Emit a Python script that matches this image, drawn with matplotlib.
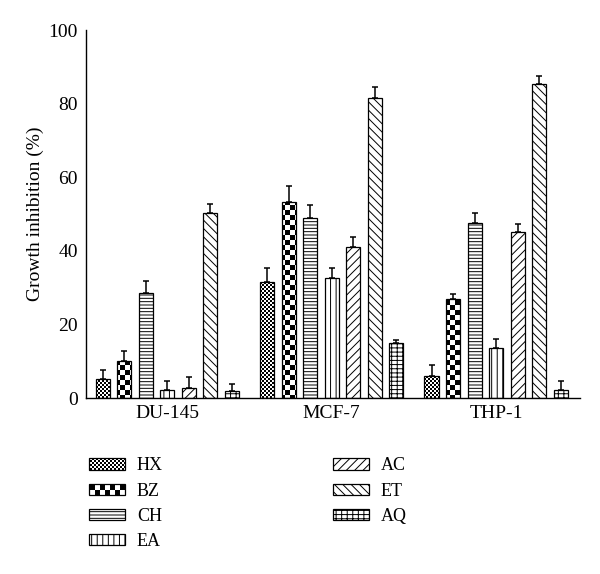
import warnings
warnings.filterwarnings('ignore')
import numpy as np
import matplotlib
matplotlib.use('Agg')
import matplotlib.pyplot as plt
import matplotlib.hatch as mhatch
from matplotlib.path import Path

# ---- data ----
cell_lines = ['DU-145', 'MCF-7', 'THP-1']
extracts = ['HX', 'BZ', 'CH', 'EA', 'AC', 'ET', 'AQ']
HX = [5.3, 31.6, 6.0]
BZ = [10.1, 53.2, 26.8]
CH = [28.6, 48.9, 47.5]
EA = [2.2, 32.7, 13.6]
AC = [2.7, 41.1, 45.2]
ET = [50.3, 81.4, 85.4]
AQ = [2.0, 15.0, 2.2]
HX_err = [2.4, 3.6, 3.0]
BZ_err = [2.7, 4.5, 1.4]
CH_err = [3.3, 3.5, 2.7]
EA_err = [2.5, 2.5, 2.5]
AC_err = [3.0, 2.6, 2.0]
ET_err = [2.5, 3.0, 2.0]
AQ_err = [1.9, 0.8, 2.5]
y_ticks = [0, 20, 40, 60, 80, 100]

values = [HX, BZ, CH, EA, AC, ET, AQ]
errors = [HX_err, BZ_err, CH_err, EA_err, AC_err, ET_err, AQ_err]

HATCH_LW = 0.7
plt.rcParams['hatch.linewidth'] = HATCH_LW
plt.rcParams['font.family'] = ['Liberation Serif', 'DejaVu Serif']


class CheckerHatch(mhatch.HatchPatternBase):
    """Checkerboard hatch: 'c' small squares, 'C' large squares."""
    def __init__(self, hatch, density):
        if hatch.count('c'):
            self.n = 50
        elif hatch.count('C'):
            self.n = 20
        else:
            self.n = 0
        self.nsq = (self.n * self.n) // 2 if self.n else 0
        self.num_vertices = self.nsq * 5

    def set_vertices_and_codes(self, vertices, codes):
        s = 1.0 / self.n
        shrink = HATCH_LW / 72.0 / 2.0
        k = 0
        for i in range(self.n):
            for j in range(self.n):
                if (i + j) % 2 == 0:
                    x0 = i * s + shrink
                    y0 = j * s + shrink
                    x1 = (i + 1) * s - shrink
                    y1 = (j + 1) * s - shrink
                    vertices[k:k + 5] = [[x0, y0], [x1, y0], [x1, y1], [x0, y1], [x0, y0]]
                    codes[k:k + 5] = [Path.MOVETO, Path.LINETO, Path.LINETO, Path.LINETO, Path.CLOSEPOLY]
                    k += 5


mhatch._hatch_types.append(CheckerHatch)

hatches = ['c', 'C', '-----', '|||', '////', '\\\\\\\\', '+++-']

fig = plt.figure(figsize=(6.0, 5.74), dpi=100)
ax = fig.add_axes([0.1433, 0.3066, 0.8234, 0.6411])

x = np.arange(len(cell_lines))
step = 0.131
width = 0.086
for k, (name, vals, errs, h) in enumerate(zip(extracts, values, errors, hatches)):
    pos = x + (k - 3) * step
    ax.bar(pos, vals, width, color='white', edgecolor='black', linewidth=0.9,
           hatch=h, label=name, zorder=2)
    ax.errorbar(pos, vals, yerr=[np.zeros(len(vals)), errs], fmt='none',
                ecolor='black', elinewidth=1.1, capsize=2.3, capthick=1.1, zorder=3)

ax.set_xlim(-0.494, 2.51)
ax.set_ylim(0, 100)
ax.set_yticks(y_ticks)
ax.set_xticks(x)
ax.set_xticklabels(cell_lines)
ax.tick_params(axis='both', length=0, labelsize=14)
ax.tick_params(axis='y', pad=6)
ax.tick_params(axis='x', pad=5)
for sp in ['top', 'right']:
    ax.spines[sp].set_visible(False)
for sp in ['left', 'bottom']:
    ax.spines[sp].set_linewidth(1.0)
ax.set_ylabel('Growth inhibition (%)', fontsize=14, labelpad=3)

leg = fig.legend(loc='upper left', bbox_to_anchor=(0.148, 0.203), ncol=2,
                 frameon=False, fontsize=13, handlelength=2.0, handleheight=0.6,
                 labelspacing=0.45, columnspacing=9.4, handletextpad=0.67,
                 borderpad=0, borderaxespad=0)

fig.savefig('out.png', dpi=100)
